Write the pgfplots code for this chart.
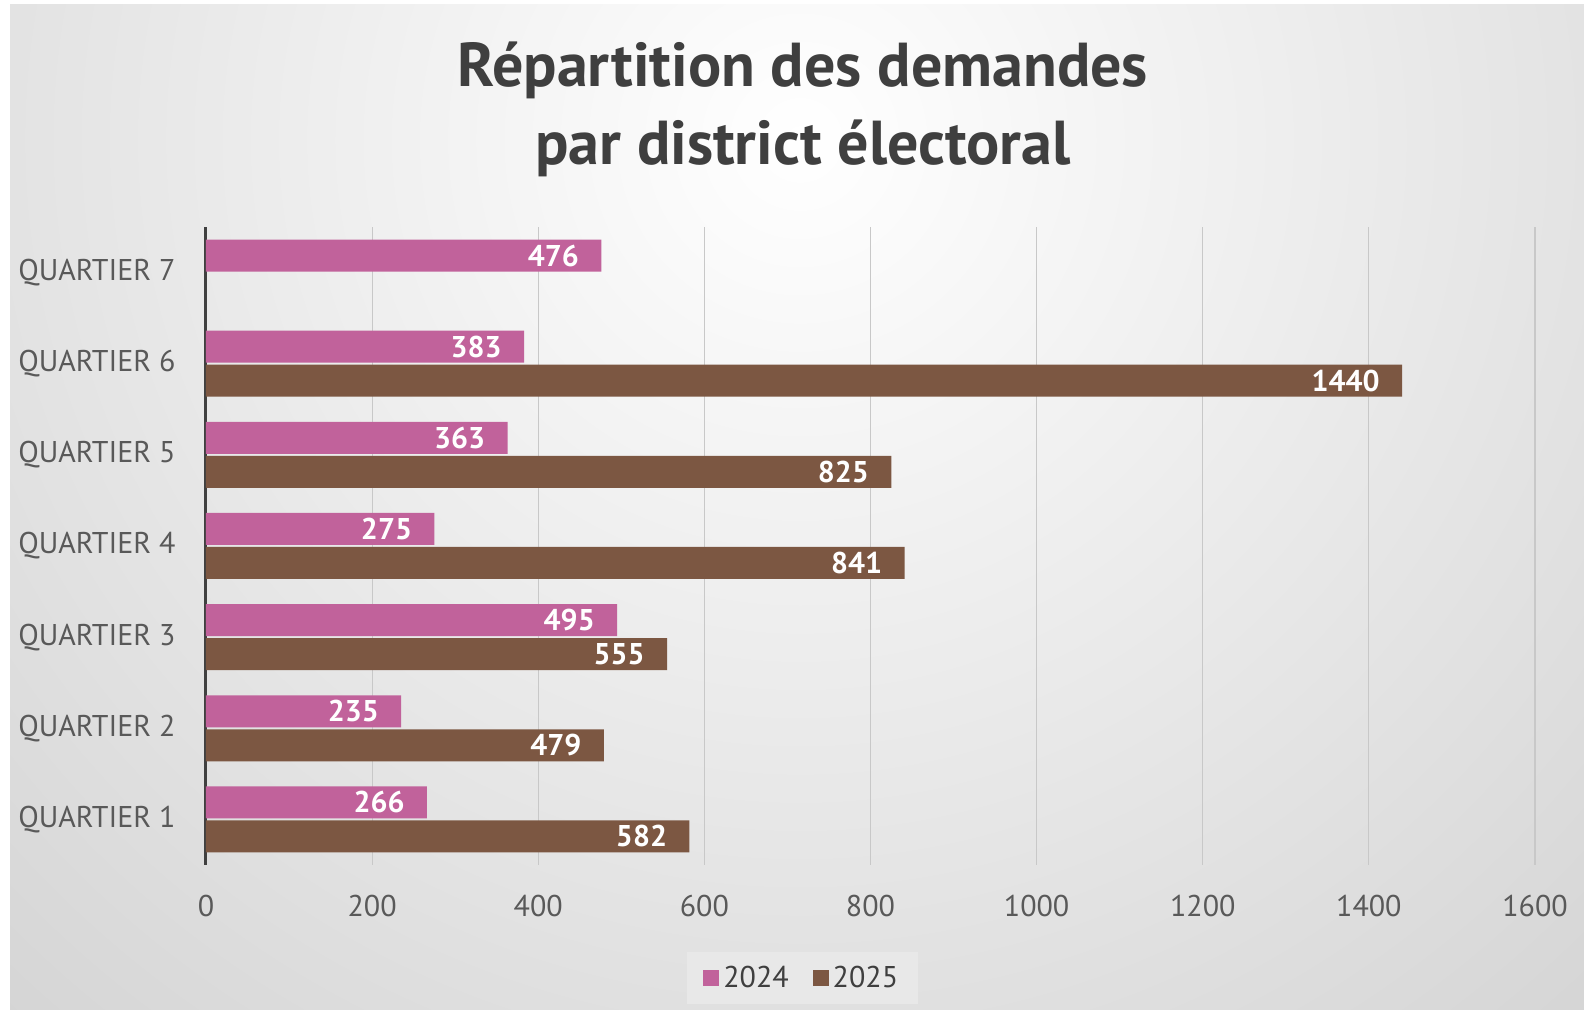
\documentclass[border=0pt]{standalone}
\usepackage{pgfplots}
\pgfplotsset{compat=1.18}
\usepackage{fontspec}
\setmainfont{PT Sans}
\definecolor{pinkbar}{HTML}{C1629B}
\definecolor{brownbar}{HTML}{7C5742}
\definecolor{titlegray}{HTML}{3F3F3F}
\definecolor{labgray}{HTML}{595959}
\definecolor{gridgray}{HTML}{C8C8C8}
\definecolor{legbg}{HTML}{E8E8E8}
\begin{document}
\begin{tikzpicture}
% background
\fill[white] (0,0) rectangle (792pt,510pt);
\begin{scope}
\clip (5pt,5pt) rectangle (792pt,507.5pt);
\shade[inner color=white, outer color=black!32] (400pt,440pt) circle (1150pt);
\end{scope}
% title
\node[align=center, font=\fontsize{31}{39}\selectfont\bfseries, text=titlegray] at (401.5pt,455.5pt)
  {Répartition des demandes\\par district électoral};
\begin{axis}[
  at={(103pt,77.5pt)}, anchor=south west,
  scale only axis, width=664.5pt, height=319pt,
  xbar, bar width=16pt,
  xmin=0, xmax=1600, ymin=0.5, ymax=7.5,
  xtick={0,200,...,1600},
  ytick={1,...,7},
  yticklabels={QUARTIER 1,QUARTIER 2,QUARTIER 3,QUARTIER 4,QUARTIER 5,QUARTIER 6,QUARTIER 7},
  /pgf/number format/assume math mode=true,
  /pgf/number format/1000 sep={},
  tick label style={font=\fontsize{15}{18}\selectfont, text=labgray},
  yticklabel style={inner sep=0pt, anchor=east, xshift=-15pt},
  xticklabel style={inner sep=0pt, anchor=north, yshift=-15pt},
  major tick length=0pt,
  axis lines*=left,
  x axis line style={draw=none},
  y axis line style={draw=black!75, line width=1.5pt},
  xmajorgrids, major grid style={draw=gridgray, line width=0.6pt},
  ymajorgrids=false,
  point meta=x,
  nodes near coords,
  every node near coord/.append style={anchor=east, inner sep=0pt, xshift=-11pt, text=white, font=\fontsize{15}{18}\selectfont\bfseries},
  legend columns=2,
  legend style={at={(0.449,-0.177)}, anchor=center, draw=none, fill=legbg,
    font=\fontsize{15}{18}\selectfont, text=titlegray, inner xsep=8pt, inner ysep=5pt,
    /tikz/every even column/.append style={column sep=10pt}},
  legend image code/.code={\fill[#1] (0pt,-4pt) rectangle (8pt,4pt);},
]
\addplot[fill=pinkbar, draw=none, bar shift=8.5pt] coordinates {(266,1) (235,2) (495,3) (275,4) (363,5) (383,6) (476,7)};
\addplot[fill=brownbar, draw=none, bar shift=-8.5pt] coordinates {(582,1) (479,2) (555,3) (841,4) (825,5) (1440,6)};
\legend{2024,2025}
\end{axis}
\pgfresetboundingbox
\path (0,0) rectangle (792pt,510pt);
\end{tikzpicture}
\end{document}
